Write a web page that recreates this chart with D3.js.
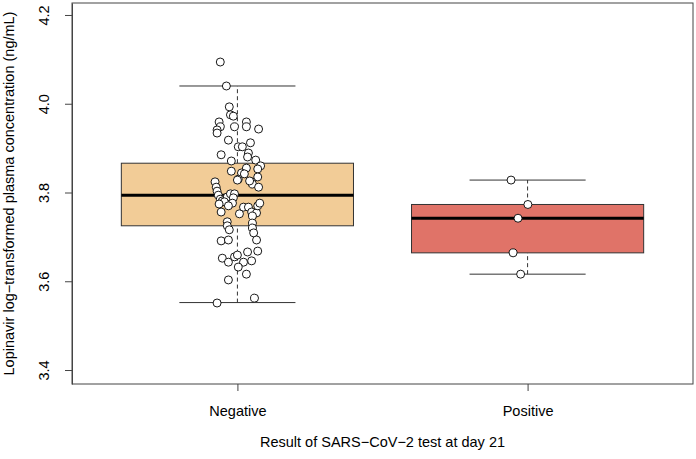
<!DOCTYPE html>
<html>
<head>
<meta charset="utf-8">
<script src="https://cdn.jsdelivr.net/npm/d3@7"></script>
<style>
  html, body { margin: 0; padding: 0; background: #fff; }
  svg { display: block; }
  text { font-family: "Liberation Sans", Arial, sans-serif; fill: #000; }
</style>
</head>
<body>
<svg id="chart" width="696" height="459"></svg>
<script>
// ---------------- data ----------------
const categories = ["Negative", "Positive"];
const boxFill = ["#F2CC97", "#E07368"];

// box statistics (ng/mL, log10)
const whiskerLow  = [3.552, 3.616];
const q1          = [3.725, 3.664];
const median      = [3.794, 3.742];
const q3          = [3.866, 3.773];
const whiskerHigh = [4.040, 3.828];

// jittered observations
const negValues = [4.094, 4.040, 3.993, 3.975, 3.972, 3.959, 3.948, 3.941, 3.934, 3.948,
  3.959, 3.948, 3.943, 3.918, 3.903, 3.903, 3.912, 3.889, 3.885, 3.880,
  3.871, 3.873, 3.860, 3.853, 3.855, 3.848, 3.844, 3.842, 3.835, 3.830,
  3.824, 3.824, 3.819, 3.812, 3.812, 3.828, 3.803, 3.794, 3.785, 3.781,
  3.790, 3.797, 3.797, 3.788, 3.779, 3.776, 3.774, 3.770, 3.756, 3.752,
  3.767, 3.767, 3.756, 3.754, 3.770, 3.776, 3.747, 3.734, 3.731, 3.725,
  3.716, 3.720, 3.709, 3.693, 3.691, 3.693, 3.668, 3.666, 3.652, 3.643,
  3.655, 3.659, 3.643, 3.646, 3.632, 3.616, 3.603, 3.551, 3.562, 3.826];
const negJitter = [-0.059, -0.038, -0.028, -0.024, -0.014, -0.063, -0.059, -0.070, -0.070, -0.010,
  0.031, 0.031, 0.073, -0.031, 0.003, 0.017, 0.045, 0.038, -0.056, 0.035,
  -0.021, 0.063, 0.080, 0.070, 0.031, -0.021, 0.014, 0.024, 0.070, 0.003,
  -0.077, 0.049, 0.052, 0.073, -0.073, 0.000, -0.070, -0.066, -0.059, -0.052,
  -0.035, -0.024, -0.010, -0.014, -0.045, -0.017, -0.063, -0.031, -0.056, 0.007,
  0.021, 0.038, 0.049, 0.066, 0.070, 0.077, 0.052, -0.035, 0.052, -0.035,
  -0.028, 0.052, 0.056, 0.066, -0.056, -0.031, 0.070, 0.035, -0.052, -0.031,
  -0.010, 0.000, 0.021, 0.049, 0.003, 0.031, -0.031, -0.070, 0.059, 0.042];
const posValues = [3.828, 3.773, 3.742, 3.664, 3.616];
const posJitter = [-0.057, 0.001, -0.033, -0.050, -0.024];

const yTicks = [3.4, 3.6, 3.8, 4.0, 4.2];
const yTitle = "Lopinavir log\u2212transformed plasma concentration (ng/mL)";
const xTitle = "Result of SARS\u2212CoV\u22122 test at day 21";

// ---------------- layout ----------------
const plot = { left: 72, right: 693, top: 3, bottom: 384 };
const svg = d3.select("#chart");

const x = d3.scaleLinear().domain([0.43, 2.57]).range([plot.left, plot.right]);
const y = d3.scaleLinear().domain([3.3685, 4.227]).range([plot.bottom, plot.top]);

const boxW = 0.8, capW = 0.4;
const g = svg.append("g");

// boxes
categories.forEach((c, i) => {
  const cx = i + 1;
  // lower/upper whisker dashed lines
  g.append("line")
    .attr("x1", x(cx)).attr("x2", x(cx))
    .attr("y1", y(whiskerLow[i])).attr("y2", y(q1[i]))
    .attr("stroke", "#333").attr("stroke-width", 1).attr("stroke-dasharray", "4,3");
  g.append("line")
    .attr("x1", x(cx)).attr("x2", x(cx))
    .attr("y1", y(q3[i])).attr("y2", y(whiskerHigh[i]))
    .attr("stroke", "#333").attr("stroke-width", 1).attr("stroke-dasharray", "4,3");
  // staples
  [whiskerLow[i], whiskerHigh[i]].forEach(v => {
    g.append("line")
      .attr("x1", x(cx - capW / 2)).attr("x2", x(cx + capW / 2))
      .attr("y1", y(v)).attr("y2", y(v))
      .attr("stroke", "#333").attr("stroke-width", 1);
  });
  // box
  g.append("rect")
    .attr("x", x(cx - boxW / 2)).attr("width", x(cx + boxW / 2) - x(cx - boxW / 2))
    .attr("y", y(q3[i])).attr("height", y(q1[i]) - y(q3[i]))
    .attr("fill", boxFill[i]).attr("stroke", "#333").attr("stroke-width", 1);
  // median
  g.append("line")
    .attr("x1", x(cx - boxW / 2)).attr("x2", x(cx + boxW / 2))
    .attr("y1", y(median[i])).attr("y2", y(median[i]))
    .attr("stroke", "#000").attr("stroke-width", 3);
});

// points
const pts = negValues.map((v, k) => ({ cx: 1 + negJitter[k], v }))
  .concat(posValues.map((v, k) => ({ cx: 2 + posJitter[k], v })));
g.selectAll("circle.pt").data(pts).enter().append("circle")
  .attr("class", "pt")
  .attr("cx", d => x(d.cx)).attr("cy", d => y(d.v)).attr("r", 4)
  .attr("fill", "#fff").attr("stroke", "#000").attr("stroke-width", 0.9);

// frame
svg.append("rect")
  .attr("x", plot.left).attr("y", plot.top)
  .attr("width", plot.right - plot.left).attr("height", plot.bottom - plot.top)
  .attr("fill", "none").attr("stroke", "#444").attr("stroke-width", 1);

// y axis
const yAxis = svg.append("g").attr("transform", `translate(${plot.left},0)`)
  .call(d3.axisLeft(y).tickValues(yTicks).tickSize(7).tickSizeOuter(0).tickFormat(d3.format(".1f")));
yAxis.select(".domain").attr("stroke", "#444");
yAxis.selectAll(".tick line").attr("stroke", "#444");
yAxis.selectAll(".tick text").remove();
yAxis.selectAll(".tick").append("text")
  .attr("transform", "translate(-23,0) rotate(-90)")
  .attr("text-anchor", "middle")
  .attr("font-size", "14.5px")
  .attr("fill", "#000")
  .text(d => d3.format(".1f")(d));

// x axis
const xAxis = svg.append("g").attr("transform", `translate(0,${plot.bottom})`)
  .call(d3.axisBottom(x).tickValues([1, 2]).tickSize(7).tickSizeOuter(0).tickFormat(d => categories[d - 1]));
xAxis.select(".domain").remove();
xAxis.selectAll(".tick line").attr("stroke", "#444");
xAxis.selectAll(".tick text").attr("font-size", "14.5px").attr("fill", "#000")
  .attr("font-family", "Liberation Sans, Arial, sans-serif").attr("dy", null).attr("y", 32);

// titles
svg.append("text")
  .attr("transform", `translate(14,${(plot.top + plot.bottom) / 2}) rotate(-90)`)
  .attr("text-anchor", "middle").attr("font-size", "14.5px")
  .text(yTitle);
svg.append("text")
  .attr("x", (plot.left + plot.right) / 2).attr("y", 447)
  .attr("text-anchor", "middle").attr("font-size", "14.5px")
  .text(xTitle);
</script>
</body>
</html>
